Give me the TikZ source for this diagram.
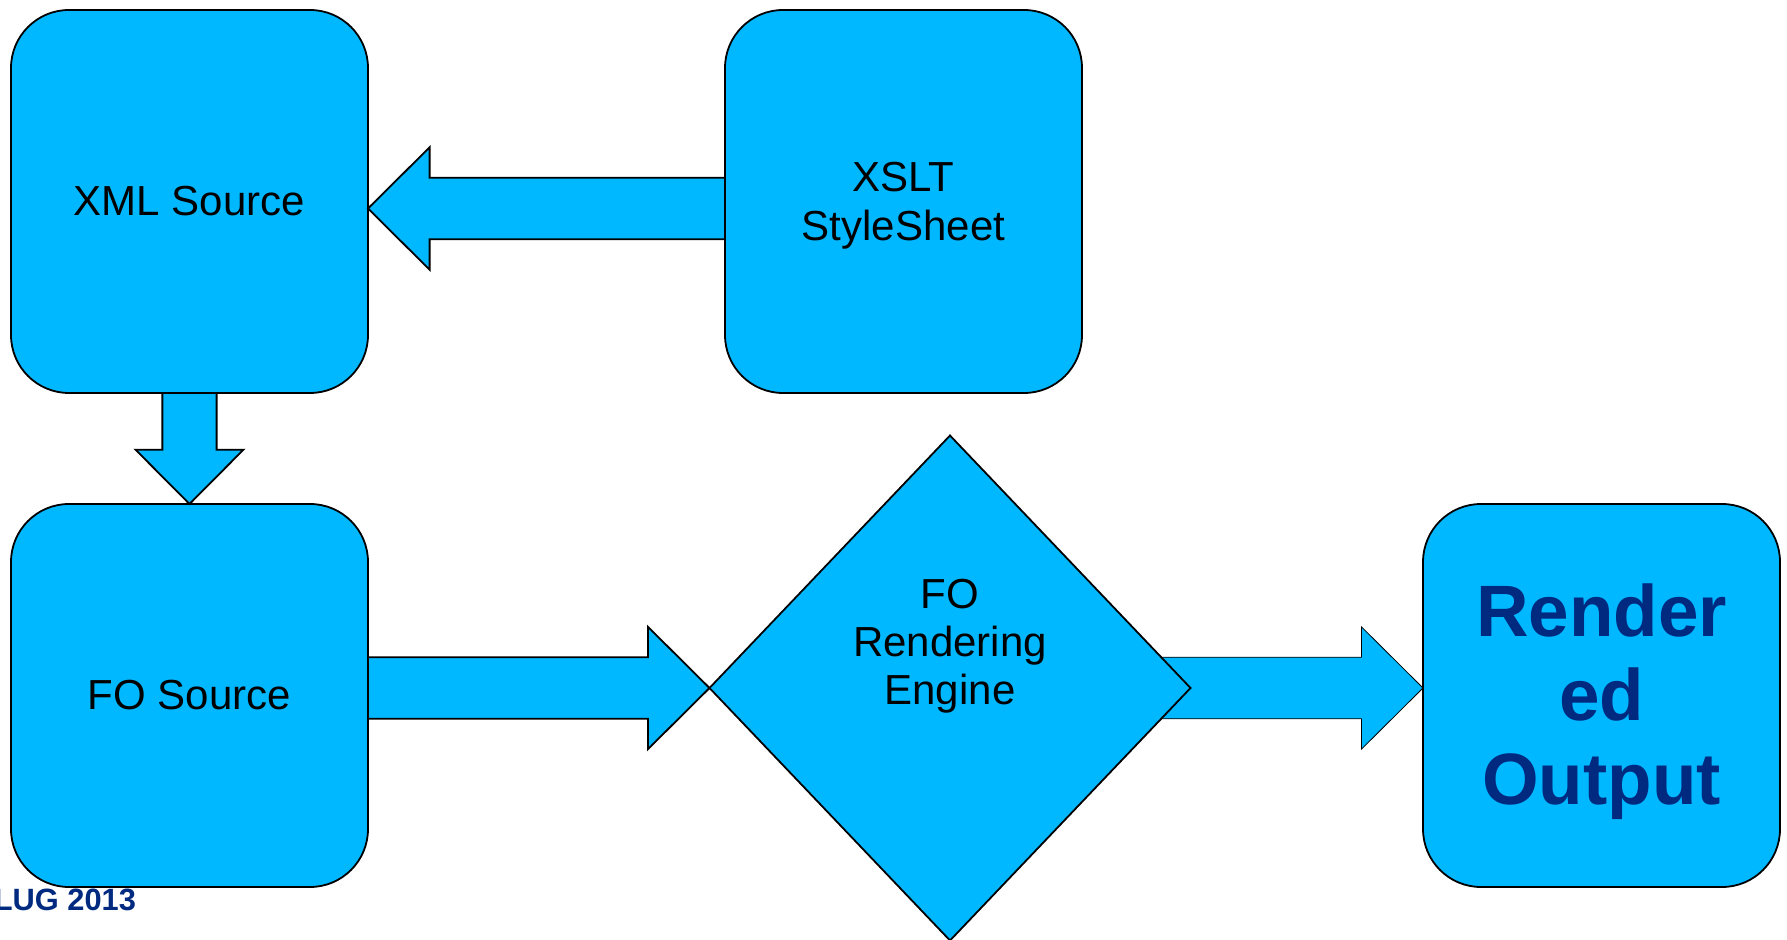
\documentclass[tikz,border=0pt]{standalone}
\usepackage{fontspec}
\setmainfont{Liberation Sans}
\usetikzlibrary{shapes.geometric, positioning, calc}

\definecolor{boxblue}{RGB}{0,184,255}
\definecolor{navy}{RGB}{0,41,128}

\pgfdeclarelayer{background}
\pgfsetlayers{background,main}

% fat block arrow from #2 to #3, #1 scales it
\newcommand{\blockarrow}[3][1]{%
  \pgfmathsetmacro{\bashaft}{#1*15.4}%
  \pgfmathsetmacro{\bahead}{#1*30.6}%
  \pgfmathsetmacro{\balen}{#1*30.8}%
  \coordinate (hb) at ($(#3)!\balen pt!(#2)$);
  \draw[fat arrow] ($(#2)!\bashaft pt!90:(#3)$)
    -- ($(hb)!\bashaft pt!90:(#3)$)
    -- ($(hb)!\bahead pt!90:(#3)$)
    -- (#3)
    -- ($(hb)!\bahead pt!-90:(#3)$)
    -- ($(hb)!\bashaft pt!-90:(#3)$)
    -- ($(#2)!\bashaft pt!-90:(#3)$) -- cycle;
}

\begin{document}
\begin{tikzpicture}[
                x=0.5pt,
                y=-0.5pt,
                line width=0.9pt,
                block/.style={
                    draw=black,
                    fill=boxblue,
                    rounded corners=29pt,
                    minimum width=178.5pt,
                    minimum height=191.5pt,
                    inner sep=0pt,
                    outer sep=0pt,
                    align=center,
                    font=\fontsize{21}{24.5}\selectfont,
                },
                engine/.style={
                    diamond,
                    draw=black,
                    fill=boxblue,
                    minimum width=240.5pt,
                    minimum height=252.5pt,
                    inner sep=0pt,
                    outer sep=0pt,
                },
                boxtext/.style={
                    align=center,
                    inner sep=0pt,
                    font=\fontsize{21}{24}\selectfont,
                },
                fat arrow/.style={
                    draw=black,
                    fill=boxblue,
                    line join=miter,
                },
            ]
            \useasboundingbox (0,0) rectangle (1787,940);

            \node[block] (xml) at (189.5,201.5) {XML Source};
            \node[block, right=178.5pt of xml] (xslt) {};
            \node[boxtext, font=\fontsize{21}{24.5}\selectfont]
                (xsltlbl) at ([yshift=-2.3pt]xslt.center) {XSLT\\StyleSheet};
            \node[block, below=55.5pt of xml] (fosrc) {FO Source};
            \node[engine] (engine) at (950,688) {};
            \node[boxtext] (englbl) at ([yshift=20.8pt]engine.center) {FO\\Rendering\\Engine};
            \node[block] (render) at (1601.5,695.5) {};
            \node[boxtext, font=\bfseries\fontsize{36.4}{42}\selectfont, text=navy]
                (renderlbl) at ([yshift=-3.1pt]render.center) {Render\\ed\\Output};

            \coordinate (a0s) at ([yshift=-3.5pt]xslt.west);
            \coordinate (a0e) at ([yshift=-3.5pt]xml.east);
            \coordinate (a1s) at (fosrc.east |- engine.west);
            \coordinate (a2e) at (render.west |- engine.east);

            \blockarrow{a0s}{a0e}
            \blockarrow[0.88]{xml.south}{fosrc.north}
            \blockarrow{a1s}{engine.west}
            \begin{pgfonlayer}{background}
                \blockarrow{engine.center}{a2e}
            \end{pgfonlayer}

            \node[anchor=base west, inner sep=0pt, text=navy,
                font=\bfseries\fontsize{15.4}{18}\selectfont]
                (conf) at (-6.5,910) {LUG 2013};
        \end{tikzpicture}
\end{document}
